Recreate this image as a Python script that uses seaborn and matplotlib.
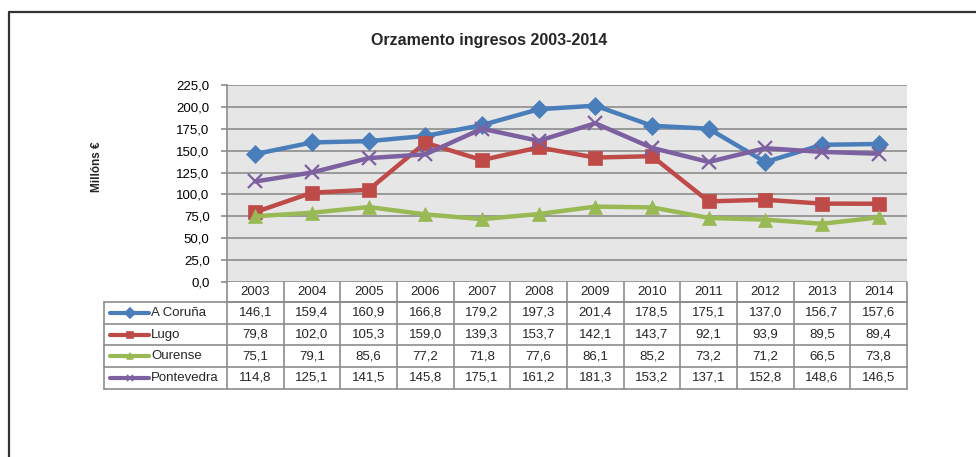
import numpy as np
import pandas as pd
import matplotlib
matplotlib.use("Agg")
import matplotlib.pyplot as plt
from matplotlib.ticker import FuncFormatter, MultipleLocator
from matplotlib.lines import Line2D
import seaborn as sns

# ── Data ──────────────────────────────────────────
years = [2003, 2004, 2005, 2006, 2007, 2008, 2009, 2010, 2011, 2012, 2013, 2014]
provinces = ["A Coruña", "Lugo", "Ourense", "Pontevedra"]
coruna = [146.1, 159.4, 160.9, 166.8, 179.2, 197.3, 201.4, 178.5, 175.1, 137.0, 156.7, 157.6]
lugo = [79.8, 102.0, 105.3, 159.0, 139.3, 153.7, 142.1, 143.7, 92.1, 93.9, 89.5, 89.4]
ourense = [75.1, 79.1, 85.6, 77.2, 71.8, 77.6, 86.1, 85.2, 73.2, 71.2, 66.5, 73.8]
pontevedra = [114.8, 125.1, 141.5, 145.8, 175.1, 161.2, 181.3, 153.2, 137.1, 152.8, 148.6, 146.5]
series = [coruna, lugo, ourense, pontevedra]

colors = ["#4a7ebb", "#be4b48", "#98b954", "#7d60a0"]
markers = ["D", "s", "^", "x"]
msizes = [9, 10, 10, 10]

def comma(v, pos=None):
    return f"{v:.1f}".replace(".", ",")

sns.set_style("white")
plt.rcParams["font.family"] = ["Liberation Sans", "DejaVu Sans"]

W, H = 976, 457
fig = plt.figure(figsize=(W / 100, H / 100), dpi=100)

# plot area in pixels
x0, x1, ytop, ybot = 227, 907, 85, 282
ax = fig.add_axes([x0 / W, 1 - ybot / H, (x1 - x0) / W, (ybot - ytop) / H])
ax.set_facecolor("#e6e6e6")

for name, vals, c, m, ms in zip(provinces, series, colors, markers, msizes):
    d = pd.DataFrame({"pos": np.arange(len(years)), "value": vals})
    sns.lineplot(data=d, x="pos", y="value", ax=ax, color=c, lw=3.2,
                 marker=m, markersize=ms, markeredgecolor=c,
                 markeredgewidth=1.6 if m == "x" else 0.5, zorder=3)

ax.set_xlim(-0.5, len(years) - 0.5)
ax.set_ylim(0, 225)
ax.yaxis.set_major_locator(MultipleLocator(25))
ax.yaxis.set_major_formatter(FuncFormatter(comma))
ax.grid(axis="y", color="#8c8c8c", lw=1.2)
ax.set_axisbelow(True)
ax.set_xticks([])
ax.set_xlabel("")
ax.set_ylabel("")
for s in ["top", "right", "bottom"]:
    ax.spines[s].set_visible(False)
ax.spines["left"].set_color("#8c8c8c")
ax.spines["left"].set_linewidth(1.2)
ax.tick_params(axis="y", length=4, color="#8c8c8c", width=1.2, labelsize=9.5,
               labelcolor="black", left=True, pad=8.5)

# ── Data table below the plot ─────────────────────
ph = ybot - ytop
hdr_h = 20 / ph
row_h = 21.7 / ph
lab_left = (104 - x0) / (x1 - x0)
tr = ax.get_xaxis_transform()
gcol = "#8c8c8c"
nrows = len(provinces)
bottom = -hdr_h - nrows * row_h
fs = 9.5

# horizontal lines
ax.plot([-0.5, len(years) - 0.5], [-hdr_h, -hdr_h], transform=tr, color=gcol, lw=1.2, clip_on=False)
for r in range(nrows + 1):
    yy = -hdr_h - r * row_h
    ax.plot([lab_left, 1], [yy, yy], transform=ax.transAxes, color=gcol, lw=1.2, clip_on=False)
# vertical lines
for i in range(len(years) + 1):
    ax.plot([i - 0.5, i - 0.5], [0, bottom], transform=tr, color=gcol, lw=1.2, clip_on=False)
ax.plot([lab_left, lab_left], [-hdr_h, bottom], transform=ax.transAxes, color=gcol, lw=1.2, clip_on=False)

for i, yr in enumerate(years):
    ax.text(i, -hdr_h / 2, str(yr), transform=tr, ha="center", va="center", fontsize=fs)
for r, (name, vals, c, m) in enumerate(zip(provinces, series, colors, markers)):
    yc = -hdr_h - (r + 0.5) * row_h
    for i, v in enumerate(vals):
        ax.text(i, yc, comma(v), transform=tr, ha="center", va="center", fontsize=fs)
    kx0 = (110 - x0) / (x1 - x0)
    kx1 = (149 - x0) / (x1 - x0)
    ax.add_line(Line2D([kx0, kx1], [yc, yc], transform=ax.transAxes, color=c, lw=3,
                       clip_on=False))
    ax.add_line(Line2D([(kx0 + kx1) / 2], [yc], transform=ax.transAxes, color=c,
                       marker=m, markersize=5, markeredgewidth=1.2, clip_on=False))
    ax.text((151 - x0) / (x1 - x0), yc, name, transform=ax.transAxes, ha="left",
            va="center", fontsize=fs)

# ── Title, axis label, frame ──────────────────────
fig.text(489 / W, 1 - 41 / H, "Orzamento ingresos 2003-2014", ha="center", va="center",
         fontsize=11.5, fontweight="bold")
fig.text(97 / W, 1 - 167 / H, "Millóns €", rotation=90, ha="center", va="center",
         fontsize=8.5, fontweight="bold")
fig.add_artist(Line2D([8.5 / W, 8.5 / W], [1 - 11.5 / H, 0], transform=fig.transFigure,
                      color="#333333", lw=1.6))
fig.add_artist(Line2D([8.5 / W, 1], [1 - 11.5 / H, 1 - 11.5 / H], transform=fig.transFigure,
                      color="#333333", lw=1.6))

fig.savefig("out.png", dpi=100)
